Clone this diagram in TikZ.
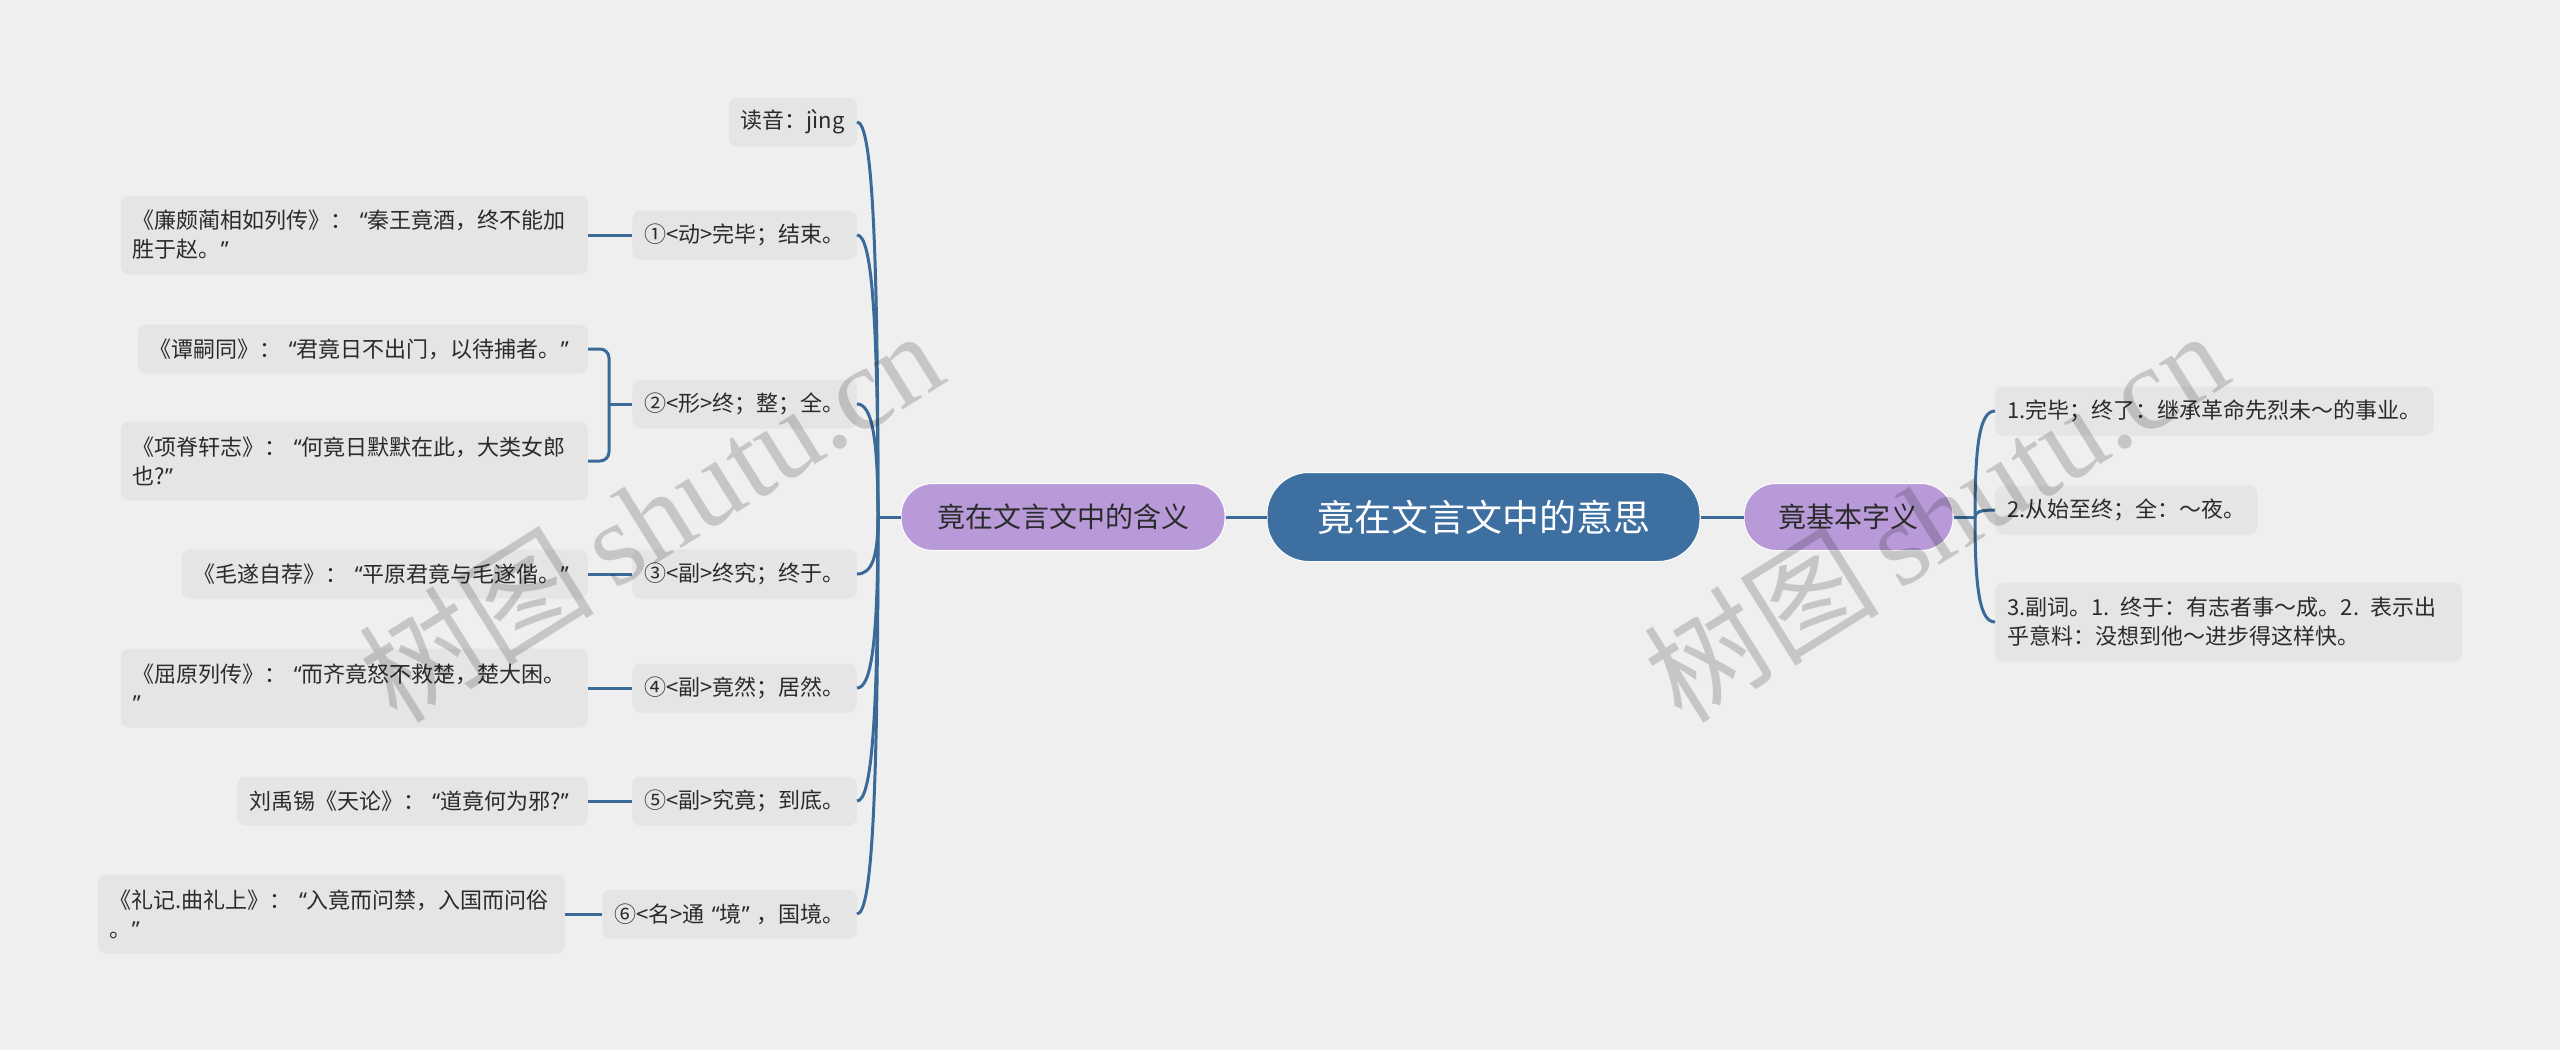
\documentclass[tikz,border=0pt]{standalone}
\usepackage{fontspec}
\setmainfont{Noto Sans CJK SC}
\newfontfamily\wmserif{Liberation Serif}
\newfontfamily\qfont{Noto Sans}
\newcommand\oq{\makebox[15pt][r]{\qfont “}}
\newcommand\cq{\makebox[15pt][l]{\qfont ”}}
\usetikzlibrary{calc}
\definecolor{bgc}{HTML}{EFEFEF}
\definecolor{leafc}{HTML}{E5E5E5}
\definecolor{linec}{HTML}{3A6A98}
\definecolor{purpc}{HTML}{B89AD9}
\definecolor{ctrc}{HTML}{3D6FA0}
\definecolor{txtc}{HTML}{2B2B2B}
\begin{document}
\begin{tikzpicture}[x=1pt,y=-1pt,
  leafbox/.style={fill=leafc, rounded corners=8pt, text=txtc, font=\fontsize{22}{29}\selectfont, inner xsep=12pt, inner ysep=0pt, minimum height=49pt, align=left},
  twoline/.style={leafbox, minimum height=79pt, text width=443pt},
  topicbox/.style={fill=purpc, draw=white, line width=1pt, rounded corners=32pt, text=txtc, font=\fontsize{28}{32}\selectfont, minimum height=67pt, inner xsep=0pt},
  centerbox/.style={fill=ctrc, draw=white, line width=1pt, rounded corners=42pt, text=white, font=\fontsize{37}{40}\selectfont, minimum height=89pt, minimum width=433pt},
  conn/.style={draw=linec, line width=3pt},
  wmark/.style={text=black, opacity=0.17, rotate=32, font=\fontsize{118}{120}\selectfont}
]
\useasboundingbox (0,0) rectangle (2560,1050);
\fill[bgc] (0,0) rectangle (2560,1050);

% center and topics
\node[centerbox] (c) at (1483.5,517) {竟在文言文中的意思};
\node[topicbox, minimum width=324pt] (L) at (1063,517) {竟在文言文中的含义};
\node[topicbox, minimum width=209pt] (R) at (1848.5,517) {竟基本字义};

% left mid nodes
\node[leafbox, anchor=east] (m0) at (857,122) {读音：jìng};
\node[leafbox, anchor=east] (m1) at (857,235) {①<动>完毕；结束。};
\node[leafbox, anchor=east] (m2) at (857,404) {②<形>终；整；全。};
\node[leafbox, anchor=east] (m3) at (857,574) {③<副>终究；终于。};
\node[leafbox, anchor=east] (m4) at (857,688) {④<副>竟然；居然。};
\node[leafbox, anchor=east] (m5) at (857,801) {⑤<副>究竟；到底。};
\node[leafbox, anchor=east] (m6) at (857,914) {⑥<名>通\oq 境\cq，国境。};

% left leaves
\node[twoline, anchor=east] (l1) at (588,235) {《廉颇蔺相如列传》：\oq 秦王竟酒，终不能加\\胜于赵。\cq};
\node[leafbox, anchor=east] (l2a) at (588,349) {《谭嗣同》：\oq 君竟日不出门，以待捕者。\cq};
\node[twoline, anchor=east] (l2b) at (588,461) {《项脊轩志》：\oq 何竟日默默在此，大类女郎\\也?\cq};
\node[leafbox, anchor=east] (l3) at (588,574) {《毛遂自荐》：\oq 平原君竟与毛遂偕。\cq};
\node[twoline, anchor=east] (l4) at (588,688) {《屈原列传》：\oq 而齐竟怒不救楚，楚大困。\\\cq};
\node[leafbox, anchor=east] (l5) at (588,801) {刘禹锡《天论》：\oq 道竟何为邪?\cq};
\node[twoline, anchor=east] (l6) at (565,914) {《礼记.曲礼上》：\oq 入竟而问禁，入国而问俗\\。\cq};

% right leaves
\node[leafbox, anchor=west] (r1) at (1995,411) {1.完毕；终了：继承革命先烈未～的事业。};
\node[leafbox, anchor=west] (r2) at (1995,510) {2.从始至终；全：～夜。};
\node[twoline, anchor=west] (r3) at (1995,622) {3.副词。1. 终于：有志者事～成。2. 表示出\\乎意料：没想到他～进步得这样快。};

% junctions
\coordinate (JL) at (878,517);
\coordinate (JR) at (1975,517);
\coordinate (B2) at (609,404);

\draw[conn] (c.west) -- (L.east);
\draw[conn] (c.east) -- (R.west);
\draw[conn] (L.west) -- (JL);
\draw[conn] (R.east) -- (JR);

\foreach \m in {m0,m1,m2,m3,m4,m5,m6}{
  \draw[conn] (\m.east) .. controls +(15,0) and ($(JL |- \m.east)!0.3!(JL)$) .. (JL);
}
\foreach \r in {r1,r2,r3}{
  \draw[conn] (\r.west) .. controls +(-15,0) and ($(JR |- \r.west)!0.3!(JR)$) .. (JR);
}

\draw[conn] (l1.east) -- (m1.west);
\draw[conn, rounded corners=9pt] (l2a.east) -| (B2) |- (l2b.east);
\draw[conn] (B2) -- (m2.west);
\draw[conn] (l3.east) -- (m3.west);
\draw[conn] (l4.east) -- (m4.west);
\draw[conn] (l5.east) -- (m5.west);
\draw[conn] (l6.east) -- (m6.west);

% watermarks
\node[wmark] (w1) at (650,515) {树图\,{\wmserif shutu.cn}};
\node[wmark] (w2) at (1935,515) {树图\,{\wmserif shutu.cn}};
\end{tikzpicture}
\end{document}
